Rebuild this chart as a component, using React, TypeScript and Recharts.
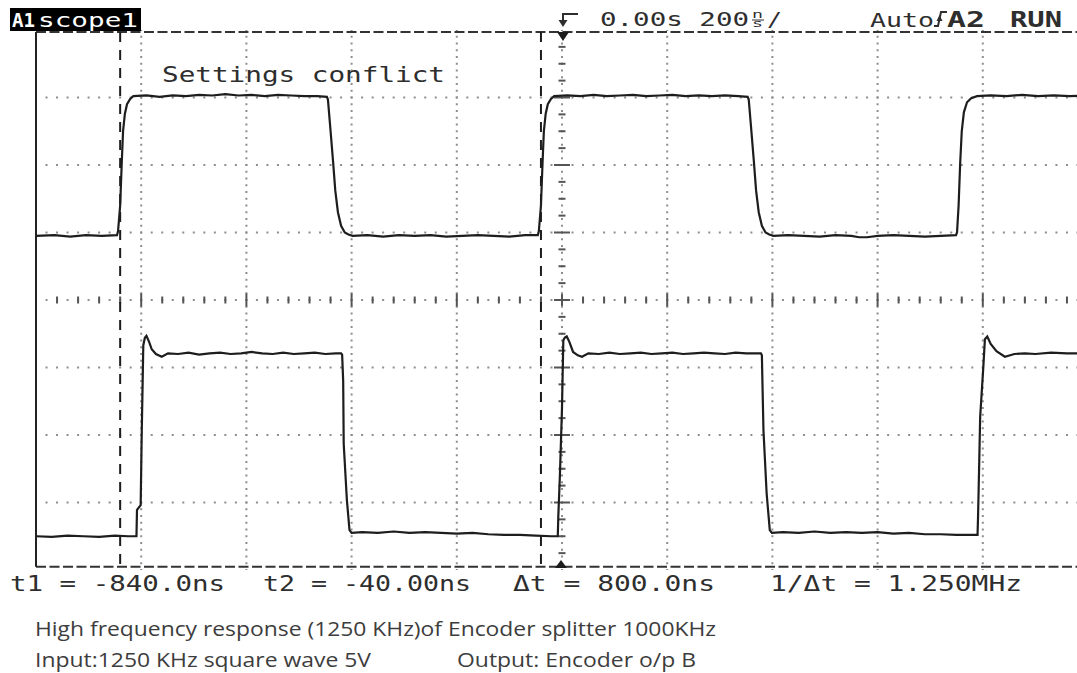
import { LineChart, Line, XAxis, YAxis, ReferenceLine } from "recharts";

// time in ns (200 ns/div, 10 div), amplitude in screen divisions (8 div)
const TIME_DOMAIN: [number, number] = [-1000, 1000];
const DIV_DOMAIN: [number, number] = [-4, 4];

const GRID_T = [-800, -600, -400, -200, 200, 400, 600, 800];
const GRID_V = [-3, -2, -1, 1, 2, 3];
const CURSOR_T = [-840, -40];
const SCREEN_TOP = 3.97;
const SCREEN_BOTTOM = -3.95;

// upper trace: 1250 kHz square wave input
const inputTrace: [number, number][] = [
  [-1000, 0.95], [-965, 0.96], [-935, 0.94], [-905, 0.96], [-875, 0.95], [-846, 0.96],
  [-844, 1.02], [-840, 1.4], [-837, 2.03], [-834.5, 2.5], [-831, 2.76], [-827, 2.9], [-821, 2.98], [-815, 3.02],
  [-790, 3.03], [-765, 3.01], [-740, 3.03], [-715, 3.02], [-690, 3.04], [-665, 3.03], [-640, 3.05], [-615, 3.03],
  [-590, 3.04], [-565, 3.02], [-540, 3.04], [-515, 3.03], [-490, 3.02], [-465, 3.02], [-447, 3.01],
  [-445, 2.97], [-441, 2.6], [-435, 2.03], [-431, 1.62], [-426, 1.3], [-420, 1.1], [-413, 1.0], [-406, 0.97], [-398, 0.95],
  [-370, 0.96], [-340, 0.94], [-310, 0.96], [-280, 0.95], [-250, 0.96], [-220, 0.94], [-190, 0.95], [-160, 0.96],
  [-130, 0.95], [-100, 0.94], [-70, 0.96], [-46, 0.96],
  [-44, 1.02], [-40, 1.4], [-37, 2.03], [-34.5, 2.5], [-31, 2.76], [-27, 2.9], [-21, 2.98], [-15, 3.02],
  [10, 3.03], [35, 3.02], [60, 3.04], [85, 3.02], [110, 3.03], [135, 3.04], [160, 3.02], [185, 3.03], [210, 3.04],
  [235, 3.02], [260, 3.03], [285, 3.02], [310, 3.03], [335, 3.02], [353, 3.01],
  [355, 2.97], [359, 2.6], [365, 2.03], [369, 1.62], [374, 1.3], [380, 1.1], [387, 1.0], [394, 0.97], [402, 0.95],
  [430, 0.96], [460, 0.95], [490, 0.94], [520, 0.96], [550, 0.95], [565, 0.93], [580, 0.93], [600, 0.95],
  [630, 0.96], [660, 0.95], [690, 0.94], [720, 0.95], [749, 0.96],
  [751, 1.0], [754, 1.4], [757, 2.03], [760, 2.5], [764, 2.78], [770, 2.93], [778, 2.99], [789, 3.02],
  [815, 3.03], [845, 3.02], [875, 3.04], [905, 3.02], [935, 3.03], [965, 3.02], [1000, 3.03],
];

// lower trace: encoder o/p B
const outputTrace: [number, number][] = [
  [-1000, -3.5], [-970, -3.51], [-940, -3.49], [-910, -3.5], [-880, -3.51], [-850, -3.49], [-825, -3.5], [-809, -3.5],
  [-808, -3.11], [-801, -3.04], [-799, -1.97], [-796, -0.67], [-793, -0.56], [-790, -0.53], [-785, -0.62],
  [-780, -0.73], [-772, -0.8], [-761, -0.84], [-749, -0.79],
  [-730, -0.8], [-710, -0.78], [-690, -0.81], [-670, -0.79], [-650, -0.78], [-630, -0.8], [-610, -0.79],
  [-590, -0.77], [-570, -0.79], [-550, -0.8], [-530, -0.78], [-510, -0.8], [-490, -0.79], [-470, -0.78],
  [-450, -0.8], [-430, -0.79], [-420, -0.79],
  [-418, -0.81], [-416, -1.2], [-415, -2.13], [-409, -2.96], [-404, -3.41], [-400, -3.45],
  [-380, -3.44], [-350, -3.45], [-320, -3.43], [-290, -3.45], [-260, -3.44], [-230, -3.45], [-200, -3.46],
  [-170, -3.45], [-140, -3.47], [-110, -3.48], [-80, -3.48], [-50, -3.49], [-20, -3.5], [-8, -3.5],
  [-7, -3.2], [-4, -2.6], [0, -1.6], [2.5, -0.6], [5, -0.56], [9, -0.54], [14, -0.62], [21, -0.77],
  [30, -0.82], [38, -0.84], [50, -0.79],
  [70, -0.8], [90, -0.78], [110, -0.8], [130, -0.79], [150, -0.78], [170, -0.8], [190, -0.79], [210, -0.78],
  [230, -0.8], [250, -0.79], [270, -0.78], [290, -0.79], [310, -0.8], [330, -0.78], [350, -0.79], [370, -0.79], [378, -0.79],
  [380, -0.82], [381, -1.2], [383, -1.93], [389, -2.86], [395, -3.41], [399, -3.45],
  [420, -3.44], [450, -3.45], [480, -3.43], [510, -3.45], [540, -3.44], [570, -3.45], [600, -3.44],
  [630, -3.46], [660, -3.45], [690, -3.47], [720, -3.47], [750, -3.48], [780, -3.48], [790, -3.48],
  [791, -3.2], [792, -2.84], [795, -1.73], [801, -0.99], [804, -0.58], [808.5, -0.54], [815, -0.65],
  [826, -0.76], [842, -0.84], [860, -0.8], [880, -0.79], [900, -0.8], [930, -0.78], [960, -0.79], [1000, -0.79],
];

const toRows = (pts: [number, number][]) => pts.map(([t, v]) => ({ t, v }));

const INK = "#1d1d1d";
const TEXT = "#2e2e2e";
const DOT = "#8e8e8e";
const SCOPE_FONT = "'DejaVu Sans Mono', monospace";
const NOTE_FONT = "'Open Sans', sans-serif";

// centre time axis: dotted line with small ticks every 1/5 div
function TimeAxisShape(p: any) {
  const xa = Math.min(p.x1, p.x2);
  const xb = Math.max(p.x1, p.x2);
  const y = p.y1;
  const step = (xb - xa) / 50;
  const marks = [];
  for (let i = 1; i < 50; i++) {
    const x = xa + i * step;
    const h = i % 5 === 0 ? 6.5 : 3.5;
    marks.push(<line key={i} x1={x} x2={x} y1={y - h} y2={y + h} stroke="#555" strokeWidth={2} />);
  }
  return (
    <g>
      <line x1={xa} x2={xb} y1={y} y2={y} stroke={DOT} strokeWidth={2}
        strokeDasharray={`2 ${step / 2 - 2}`} strokeDashoffset={1} />
      {marks}
    </g>
  );
}

// centre amplitude axis: dotted line with small ticks every 1/4 div
function VoltAxisShape(p: any) {
  const ya = Math.min(p.y1, p.y2);
  const yb = Math.max(p.y1, p.y2);
  const x = p.x1;
  const step = (yb - ya) / 32;
  const marks = [];
  for (let i = 1; i < 32; i++) {
    const y = ya + i * step;
    const w = i % 4 === 0 ? 8 : 3.5;
    marks.push(<line key={i} x1={x - w} x2={x + w} y1={y} y2={y} stroke="#555" strokeWidth={2} />);
  }
  return (
    <g>
      <line x1={x} x2={x} y1={ya} y2={yb} stroke={DOT} strokeWidth={2}
        strokeDasharray={`2 ${(yb - ya) / 80 - 2}`} strokeDashoffset={1} />
      {marks}
    </g>
  );
}

function Overlay() {
  const scope = { fontFamily: SCOPE_FONT, fill: TEXT, lengthAdjust: "spacingAndGlyphs" as const };
  const note = { fontFamily: NOTE_FONT, fill: "#3d3d3d", fontSize: 20, lengthAdjust: "spacingAndGlyphs" as const };
  return (
    <svg width={1077} height={673} style={{ position: "absolute", left: 0, top: 0, pointerEvents: "none" }}>
      <rect x={10} y={8} width={131} height={23} fill="#000" />
      <text x={12} y={27} {...scope} fill="#fff" fontWeight="bold" fontSize={20} textLength={23}>A1</text>
      <text x={38} y={27} {...scope} fill="#fff" fontSize={20} textLength={100}>scope1</text>

      <text x={162} y={82} {...scope} fontSize={21} textLength={283}>Settings conflict</text>

      <path d="M563 25 V14 H578" stroke={TEXT} strokeWidth={2} fill="none" />
      <path d="M558.5 20 L567.5 20 L563 27 Z" fill={TEXT} />
      <path d="M557 32 L569 32 L563 41 Z" fill={INK} />
      <path d="M555 568 L567 568 L561 560 Z" fill={INK} />

      <text x={600} y={26} {...scope} fontSize={20} textLength={149}>0.00s 200</text>
      <text x={752} y={18} {...scope} fontSize={10} textLength={11}>n</text>
      <line x1={752} x2={764} y1={20} y2={20} stroke={TEXT} strokeWidth={1} />
      <text x={752} y={27} {...scope} fontSize={10} textLength={11}>s</text>
      <text x={767} y={26} {...scope} fontSize={20} textLength={15}>/</text>

      <text x={870} y={27} {...scope} fontSize={20} textLength={64}>Auto</text>
      <path d="M934 26 H938 L941 12 H947" stroke={TEXT} strokeWidth={2} fill="none" />
      <path d="M936.5 21 L942.5 21 L939.5 15 Z" fill={TEXT} />
      <text x={947} y={27} {...scope} fontWeight="bold" fontSize={21} textLength={38}>A2</text>
      <text x={1010} y={27} {...scope} fontWeight="bold" fontSize={21} textLength={52}>RUN</text>

      <text x={10} y={591} {...scope} fontSize={22} textLength={215}>t1 = -840.0ns</text>
      <text x={263} y={591} {...scope} fontSize={22} textLength={208}>t2 = -40.00ns</text>
      <text x={513} y={591} {...scope} fontSize={22} textLength={202}>Δt = 800.0ns</text>
      <text x={770} y={591} {...scope} fontSize={22} textLength={252}>1/Δt = 1.250MHz</text>

      <text x={35} y={636} {...note} textLength={681}>High frequency response (1250 KHz)of Encoder splitter 1000KHz</text>
      <text x={35} y={667} {...note} textLength={336}>Input:1250 KHz square wave 5V</text>
      <text x={457} y={667} {...note} textLength={239}>Output: Encoder o/p B</text>
    </svg>
  );
}

export default function App() {
  return (
    <div style={{ position: "absolute", left: 0, top: 0, width: 1077, height: 673, overflow: "hidden", background: "#fff" }}>
      <LineChart width={1100} height={673} margin={{ top: 30, right: 12, bottom: 103, left: 36 }}>
        <XAxis type="number" dataKey="t" domain={TIME_DOMAIN} allowDataOverflow hide />
        <YAxis type="number" dataKey="v" domain={DIV_DOMAIN} allowDataOverflow hide />

        {GRID_T.map(t => (
          <ReferenceLine key={`gx${t}`} x={t} stroke={DOT} strokeWidth={2}
            strokeDasharray="2 4.75" strokeDashoffset={1} />
        ))}
        {GRID_V.map(v => (
          <ReferenceLine key={`gy${v}`} y={v} stroke={DOT} strokeWidth={2}
            strokeDasharray="2 8.52" strokeDashoffset={1} />
        ))}
        <ReferenceLine y={0} shape={TimeAxisShape} />
        <ReferenceLine x={0} shape={VoltAxisShape} />

        <ReferenceLine y={SCREEN_TOP} stroke="#333" strokeWidth={2} strokeDasharray="10 3.5" />
        <ReferenceLine y={SCREEN_BOTTOM} stroke="#333" strokeWidth={2} strokeDasharray="10 3.5" />
        <ReferenceLine
          segment={[{ x: TIME_DOMAIN[0], y: SCREEN_TOP }, { x: TIME_DOMAIN[0], y: SCREEN_BOTTOM }]}
          stroke="#222" strokeWidth={2} ifOverflow="visible" />
        {CURSOR_T.map(t => (
          <ReferenceLine key={`c${t}`}
            segment={[{ x: t, y: SCREEN_TOP }, { x: t, y: SCREEN_BOTTOM }]}
            stroke={INK} strokeWidth={2} strokeDasharray="10 8" />
        ))}

        <Line data={toRows(inputTrace)} dataKey="v" type="linear" stroke={INK} strokeWidth={2.2}
          dot={false} activeDot={false} isAnimationActive={false} />
        <Line data={toRows(outputTrace)} dataKey="v" type="linear" stroke={INK} strokeWidth={2.2}
          dot={false} activeDot={false} isAnimationActive={false} />
      </LineChart>
      <Overlay />
    </div>
  );
}
